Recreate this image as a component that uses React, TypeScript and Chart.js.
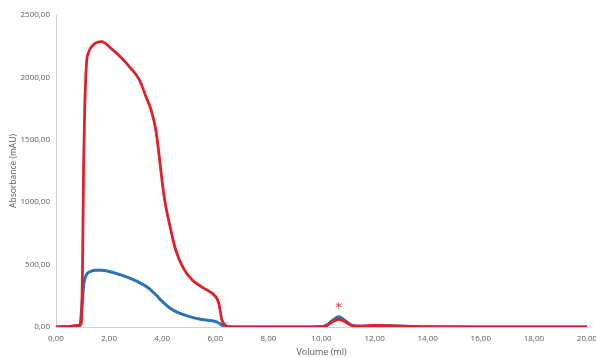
import React, { useEffect, useRef } from "react";
import { Chart, registerables } from "chart.js";

Chart.register(...registerables);

const redVolume = [0, 0.5, 0.9, 0.95, 1.0, 1.04, 1.08, 1.15, 1.21, 1.4, 1.71, 2.14, 2.45, 2.77, 3.14, 3.39, 3.58, 3.76, 4.07, 4.3, 4.51, 4.8, 5.13, 5.5, 6.01, 6.13, 6.25, 6.38, 6.5, 7, 8, 9, 10, 10.2, 10.4, 10.65, 10.9, 11.1, 11.4, 12, 12.6, 13.5, 14, 16, 18, 20];
const redAbs = [0, 5, 15, 25, 500, 1300, 1740, 2115, 2190, 2260, 2286, 2220, 2160, 2085, 1980, 1845, 1740, 1578, 1050, 800, 617, 470, 377, 320, 243, 192, 56, 16, 2, 0, 0, 0, 2, 12, 40, 62, 40, 15, 6, 12, 10, 4, 2, 1, 0, 0];

const blueVolume = [0, 0.5, 0.9, 0.97, 1.05, 1.15, 1.3, 1.5, 1.7, 2.0, 2.4, 2.8, 3.2, 3.5, 3.8, 4.0, 4.3, 4.6, 5.0, 5.5, 6.0, 6.15, 6.3, 6.45, 7, 9, 10, 10.2, 10.4, 10.65, 10.9, 11.1, 11.4, 12, 12.6, 13.5, 14, 16, 20];
const blueAbs = [0, 3, 10, 150, 350, 420, 445, 455, 455, 445, 420, 390, 350, 310, 250, 205, 150, 115, 85, 60, 45, 30, 8, 0, 0, 0, 2, 15, 50, 82, 50, 18, 6, 10, 8, 3, 1, 0, 0];

const markerVolume = 10.65;
const markerAbs = 150;
const markerText = "*";

const xTitle = "Volume (ml)";
const yTitle = "Absorbance (mAU)";

const fmt = (v: number) => Number(v).toFixed(2).replace(".", ",");

export default function App() {
  const ref = useRef<HTMLCanvasElement | null>(null);
  useEffect(() => {
    if (!ref.current) return;
    const markerPlugin = {
      id: "marker",
      afterDatasetsDraw(chart: any) {
        const { ctx, scales } = chart;
        const x = scales.x.getPixelForValue(markerVolume);
        const y = scales.y.getPixelForValue(markerAbs);
        ctx.save();
        ctx.fillStyle = "#D93A44";
        ctx.font = "14px 'DejaVu Sans'";
        ctx.textAlign = "center";
        ctx.textBaseline = "middle";
        ctx.fillText(markerText, x, y);
        ctx.restore();
      },
    };
    const chart = new Chart(ref.current, {
      type: "line",
      data: {
        datasets: [
          {
            label: "red",
            data: redVolume.map((v, i) => ({ x: v, y: redAbs[i] })),
            borderColor: "#E0202A",
            borderWidth: 2.8,
            pointRadius: 0,
            cubicInterpolationMode: "monotone",
          },
          {
            label: "blue",
            data: blueVolume.map((v, i) => ({ x: v, y: blueAbs[i] })),
            borderColor: "#2A73B4",
            borderWidth: 3,
            pointRadius: 0,
            cubicInterpolationMode: "monotone",
          },
        ],
      },
      options: {
        animation: false,
        responsive: false,
        layout: { padding: { top: 15, right: 9, left: 0, bottom: 0 } },
        plugins: { legend: { display: false }, tooltip: { enabled: false } },
        scales: {
          x: {
            type: "linear",
            min: 0,
            max: 20,
            grid: { display: false, drawTicks: false },
            border: { display: true, color: "#d0d0d0" },
            ticks: {
              stepSize: 2,
              padding: 7,
              color: "#595959",
              font: { family: "'Open Sans'", size: 8 },
              callback: (v: any) => fmt(v),
              maxRotation: 0,
            },
            title: {
              display: true,
              text: xTitle,
              color: "#595959",
              font: { family: "'Open Sans'", size: 9 },
              padding: { top: 0, bottom: 0 },
            },
            afterFit: (s: any) => {
              s.height = 31;
              s.paddingRight = 0;
            },
          },
          y: {
            min: 0,
            max: 2500,
            grid: { display: false, drawTicks: false },
            border: { display: true, color: "#d0d0d0" },
            ticks: {
              stepSize: 500,
              padding: 6,
              color: "#595959",
              font: { family: "'Open Sans'", size: 8 },
              callback: (v: any) => fmt(v),
            },
            title: {
              display: true,
              text: yTitle,
              color: "#595959",
              font: { family: "'Open Sans'", size: 8.5 },
              padding: { top: 8, bottom: 0 },
            },
            afterFit: (s: any) => {
              s.width = 56;
            },
          },
        },
      },
      plugins: [markerPlugin],
    });
    return () => chart.destroy();
  }, []);
  return (
    <div style={{ position: "fixed", left: 0, top: 0, width: 596, height: 358, background: "#fff" }}>
      <canvas ref={ref} width={596} height={358} style={{ width: 596, height: 358 }} />
    </div>
  );
}
